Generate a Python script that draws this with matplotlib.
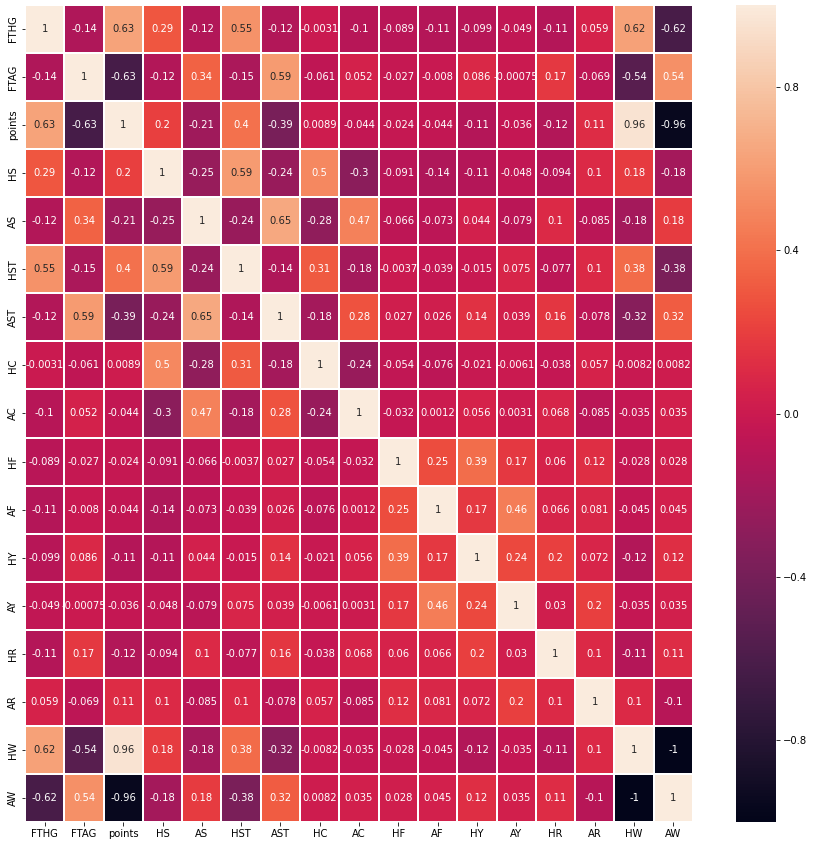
import numpy as np
import pandas as pd
import matplotlib
matplotlib.use("Agg")
import matplotlib.pyplot as plt
import seaborn as sns

labels = ["FTHG", "FTAG", "points", "HS", "AS", "HST", "AST", "HC", "AC",
          "HF", "AF", "HY", "AY", "HR", "AR", "HW", "AW"]

r_FTHG = [1, -0.14, 0.63, 0.29, -0.12, 0.55, -0.12, -0.0031, -0.1, -0.089, -0.11, -0.099, -0.049, -0.11, 0.059, 0.62, -0.62]
r_FTAG = [-0.14, 1, -0.63, -0.12, 0.34, -0.15, 0.59, -0.061, 0.052, -0.027, -0.008, 0.086, -0.00075, 0.17, -0.069, -0.54, 0.54]
r_points = [0.63, -0.63, 1, 0.2, -0.21, 0.4, -0.39, 0.0089, -0.044, -0.024, -0.044, -0.11, -0.036, -0.12, 0.11, 0.96, -0.96]
r_HS = [0.29, -0.12, 0.2, 1, -0.25, 0.59, -0.24, 0.5, -0.3, -0.091, -0.14, -0.11, -0.048, -0.094, 0.1, 0.18, -0.18]
r_AS = [-0.12, 0.34, -0.21, -0.25, 1, -0.24, 0.65, -0.28, 0.47, -0.066, -0.073, 0.044, -0.079, 0.1, -0.085, -0.18, 0.18]
r_HST = [0.55, -0.15, 0.4, 0.59, -0.24, 1, -0.14, 0.31, -0.18, -0.0037, -0.039, -0.015, 0.075, -0.077, 0.1, 0.38, -0.38]
r_AST = [-0.12, 0.59, -0.39, -0.24, 0.65, -0.14, 1, -0.18, 0.28, 0.027, 0.026, 0.14, 0.039, 0.16, -0.078, -0.32, 0.32]
r_HC = [-0.0031, -0.061, 0.0089, 0.5, -0.28, 0.31, -0.18, 1, -0.24, -0.054, -0.076, -0.021, -0.0061, -0.038, 0.057, -0.0082, 0.0082]
r_AC = [-0.1, 0.052, -0.044, -0.3, 0.47, -0.18, 0.28, -0.24, 1, -0.032, 0.0012, 0.056, 0.0031, 0.068, -0.085, -0.035, 0.035]
r_HF = [-0.089, -0.027, -0.024, -0.091, -0.066, -0.0037, 0.027, -0.054, -0.032, 1, 0.25, 0.39, 0.17, 0.06, 0.12, -0.028, 0.028]
r_AF = [-0.11, -0.008, -0.044, -0.14, -0.073, -0.039, 0.026, -0.076, 0.0012, 0.25, 1, 0.17, 0.46, 0.066, 0.081, -0.045, 0.045]
r_HY = [-0.099, 0.086, -0.11, -0.11, 0.044, -0.015, 0.14, -0.021, 0.056, 0.39, 0.17, 1, 0.24, 0.2, 0.072, -0.12, 0.12]
r_AY = [-0.049, -0.00075, -0.036, -0.048, -0.079, 0.075, 0.039, -0.0061, 0.0031, 0.17, 0.46, 0.24, 1, 0.03, 0.2, -0.035, 0.035]
r_HR = [-0.11, 0.17, -0.12, -0.094, 0.1, -0.077, 0.16, -0.038, 0.068, 0.06, 0.066, 0.2, 0.03, 1, 0.1, -0.11, 0.11]
r_AR = [0.059, -0.069, 0.11, 0.1, -0.085, 0.1, -0.078, 0.057, -0.085, 0.12, 0.081, 0.072, 0.2, 0.1, 1, 0.1, -0.1]
r_HW = [0.62, -0.54, 0.96, 0.18, -0.18, 0.38, -0.32, -0.0082, -0.035, -0.028, -0.045, -0.12, -0.035, -0.11, 0.1, 1, -1]
r_AW = [-0.62, 0.54, -0.96, -0.18, 0.18, -0.38, 0.32, 0.0082, 0.035, 0.028, 0.045, 0.12, 0.035, 0.11, -0.1, -1, 1]

rows = [r_FTHG, r_FTAG, r_points, r_HS, r_AS, r_HST, r_AST, r_HC, r_AC,
        r_HF, r_AF, r_HY, r_AY, r_HR, r_AR, r_HW, r_AW]
df = pd.DataFrame(rows, index=labels, columns=labels)

W, H = 814, 846
fig = plt.figure(figsize=(W / 72, H / 72), dpi=72)
ax = fig.add_axes([25 / W, (H - 822) / H, 668 / W, 817 / H])
cax = fig.add_axes([736 / W, (H - 822) / H, 40 / W, 817 / H])

sns.heatmap(df, annot=True, linewidths=1.5, ax=ax, cbar_ax=cax,
            annot_kws={"fontsize": 10})
ax.set_xticklabels(labels, rotation=0, fontsize=10)
ax.set_yticklabels(labels, rotation=90, va="center", fontsize=10)
cax.set_yticks([0.8, 0.4, 0.0, -0.4, -0.8])
cax.tick_params(labelsize=10)

fig.savefig("out.png", dpi=72)
